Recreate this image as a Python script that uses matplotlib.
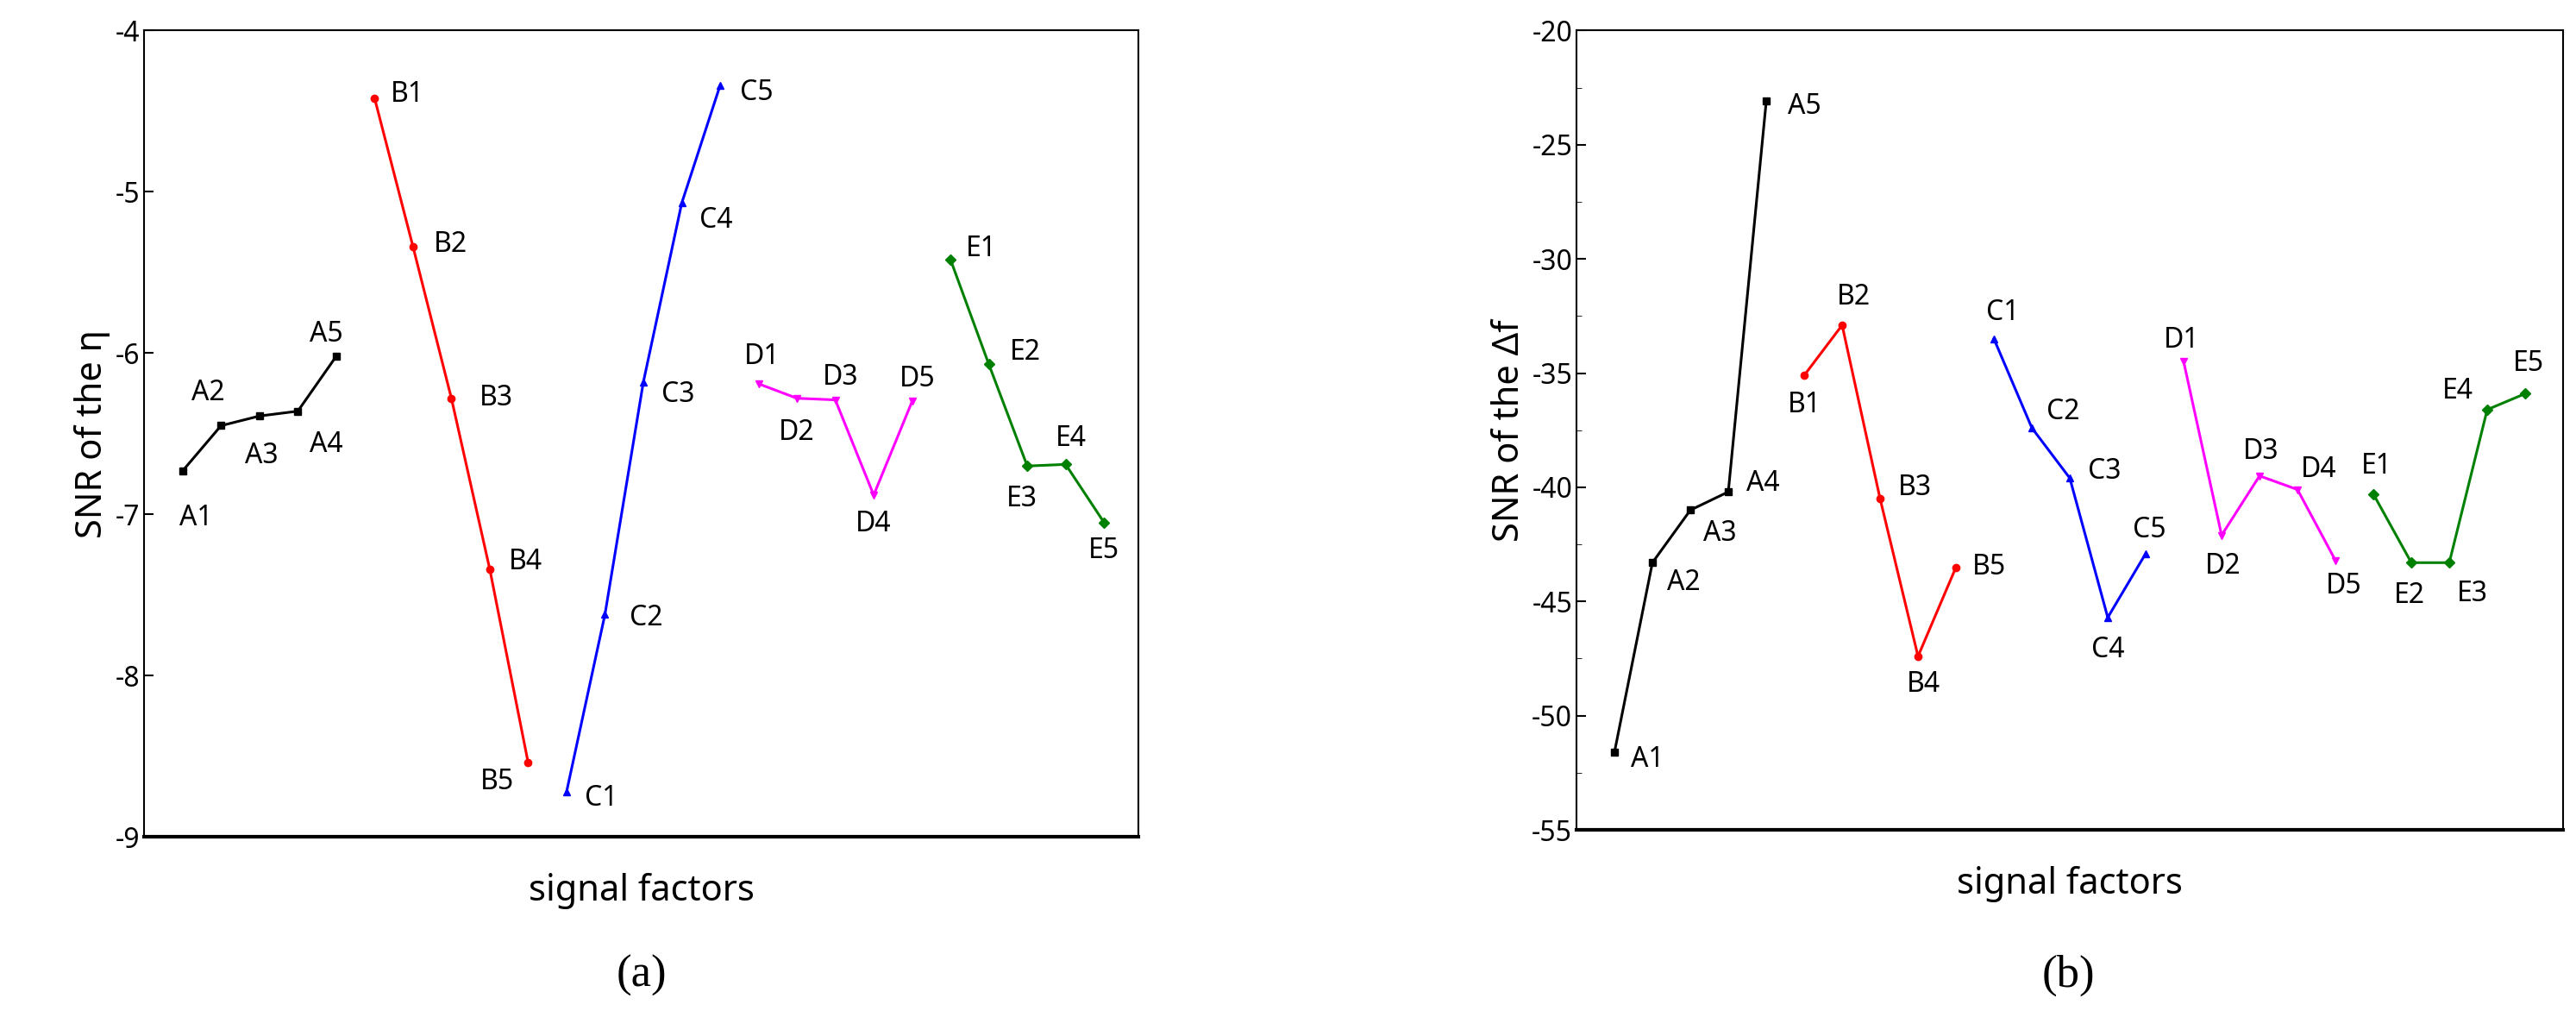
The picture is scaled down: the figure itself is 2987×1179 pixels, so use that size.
import matplotlib.pyplot as plt
import numpy as np

plt.rcParams['font.family'] = ['Noto Sans', 'DejaVu Sans']
plt.rcParams['axes.unicode_minus'] = False

groups = ['A', 'B', 'C', 'D', 'E']
colors = ['black', 'red', 'blue', 'magenta', 'green']
markers = ['s', 'o', '^', 'v', 'D']

# panel (a): SNR of eta
snr_eta = {
    'A': [-6.73, -6.45, -6.39, -6.36, -6.02],
    'B': [-4.42, -5.34, -6.28, -7.34, -8.54],
    'C': [-8.72, -7.62, -6.18, -5.07, -4.34],
    'D': [-6.19, -6.28, -6.29, -6.88, -6.30],
    'E': [-5.42, -6.07, -6.70, -6.69, -7.05],
}
# panel (b): SNR of delta f
snr_df = {
    'A': [-51.6, -43.3, -41.0, -40.2, -23.1],
    'B': [-35.1, -32.9, -40.5, -47.4, -43.5],
    'C': [-33.5, -37.4, -39.6, -45.7, -42.9],
    'D': [-34.5, -42.1, -39.5, -40.1, -43.2],
    'E': [-40.3, -43.3, -43.3, -36.6, -35.9],
}

# label offsets in pixels
offs_a = [(15, -55), (-15, 38), (2, -46), (33, -39), (-11, 26),
          (38, 4), (44, 2), (52, 0), (42, 8), (-36, -22),
          (40, -8), (48, -4), (40, -14), (40, -20), (42, -9),
          (4, 31), (0, -40), (6, 26), (0, -34), (6, 26),
          (36, 12), (42, 14), (-6, -38), (6, 30), (0, -33)]
offs_b = [(38, -8), (36, -23), (34, -27), (40, 10), (44, -6),
          (0, -34), (13, 32), (40, 13), (6, -33), (38, 0),
          (10, 30), (36, 19), (40, 8), (0, -38), (4, 27),
          (-2, 25), (2, -36), (2, 28), (25, 23), (10, -30),
          (4, 32), (-2, -38), (27, -36), (-34, 21), (4, 35)]


def draw(ax, data, offs):
    k = 0
    for gi, g in enumerate(groups):
        x = np.arange(5) + gi * 5
        ax.plot(x, data[g], color=colors[gi], marker=markers[gi], ms=6, lw=2.2)
        for j in range(5):
            ax.annotate(g + str(j + 1), (x[j], data[g][j]), xytext=offs[k],
                        textcoords='offset pixels', ha='center', va='center',
                        fontsize=23)
            k += 1
    ax.set_xticks([])
    ax.set_xlabel('signal factors', fontsize=30, labelpad=30)
    ax.tick_params(axis='y', labelsize=23, direction='in', length=8, width=1.5)
    for s in ax.spines.values():
        s.set_linewidth(1.5)
    ax.spines['bottom'].set_linewidth(3)


fig = plt.figure(figsize=(29.87, 11.79), dpi=100)
ax1 = fig.add_axes([0.056, 0.177, 0.386, 0.793])
ax2 = fig.add_axes([0.612, 0.184, 0.383, 0.786])

draw(ax1, snr_eta, offs_a)
ax1.set_xlim(-1, 24.9)
ax1.set_ylim(-9, -4)
ax1.set_yticks([-9, -8, -7, -6, -5, -4])
ax1.set_ylabel('SNR of the η', fontsize=30)

draw(ax2, snr_df, offs_b)
ax2.set_xlim(-1, 25)
ax2.set_ylim(-55, -20)
ax2.set_yticks(np.arange(-55, -19, 5))
ax2.set_yticks(np.arange(-52.5, -20, 5), minor=True)
ax2.tick_params(axis='y', which='minor', direction='in', length=4)
ax2.set_ylabel('SNR of the Δf', fontsize=30)

fig.text(0.249, 0.03, '(a)', fontsize=38, ha='center', family='Liberation Serif')
fig.text(0.803, 0.03, '(b)', fontsize=38, ha='center', family='Liberation Serif')

fig.savefig('out.png', dpi=100)
